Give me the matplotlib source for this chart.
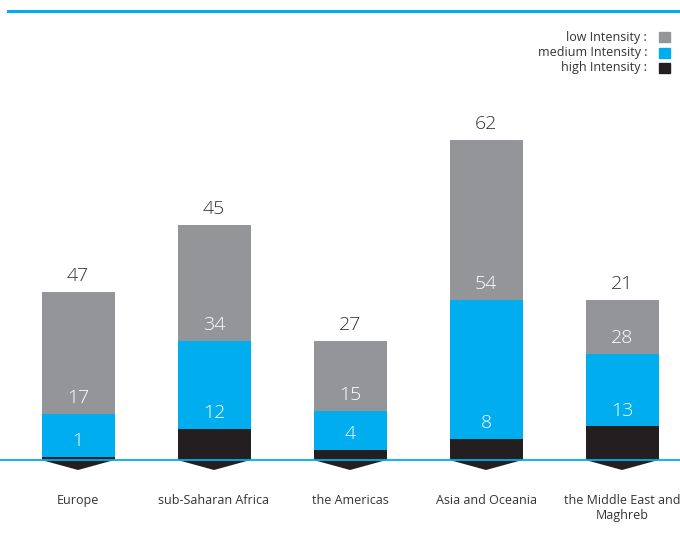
import matplotlib.pyplot as plt
from matplotlib.patches import Polygon, Rectangle
from matplotlib.lines import Line2D

# ---
regions = ['Europe', 'sub-Saharan Africa', 'the Americas', 'Asia and Oceania',
           'the Middle East and\nMaghreb']
high = [1, 12, 4, 8, 13]
medium = [17, 34, 15, 54, 28]
low = [47, 45, 27, 62, 21]

c_low = '#939598'
c_med = '#00aeef'
c_high = '#231f20'
c_text = '#333333'

plt.rcParams['font.family'] = ['Open Sans', 'DejaVu Sans']

W, H = 680, 537
fig = plt.figure(figsize=(W / 100, H / 100), dpi=100)
ax = fig.add_axes([0, 0, 1, 1])
ax.axis('off')

# pixel mapping: bar centres at 78 + 136*i, baseline at y=460 from top, 2.58 px per unit
px_unit = 2.58
base_px = H - 460
ax.set_xlim(-78 / 136, (W - 78) / 136)
ax.set_ylim(-base_px / px_unit, (H - base_px) / px_unit)

x = list(range(len(regions)))
width = 73 / 136

b1 = [h for h in high]
b2 = [h + m for h, m in zip(high, medium)]
ax.bar(x, high, width=width, color=c_high, zorder=2)
ax.bar(x, medium, width=width, bottom=b1, color=c_med, zorder=2)
ax.bar(x, low, width=width, bottom=b2, color=c_low, zorder=2)

# chevrons under each bar
depth = 10 / px_unit
for xi in x:
    ax.add_patch(Polygon([(xi - width / 2, 0), (xi + width / 2, 0), (xi, -depth)],
                         closed=True, color=c_high, zorder=2, lw=0))

# baseline
ax.axhline(0, color=c_med, lw=1.3, zorder=3)

# value labels sit just above the top of each segment
for xi, h, m, l in zip(x, high, medium, low):
    ax.annotate(str(l), (xi, h + m + l), xytext=(0, 5), textcoords='offset points',
                ha='center', va='bottom', fontsize=14, color=c_text, fontweight='light')
    ax.annotate(str(m), (xi, h + m), xytext=(0, 5), textcoords='offset points',
                ha='center', va='bottom', fontsize=14, color='white', fontweight='light')
    ax.annotate(str(h), (xi, h), xytext=(0, 5), textcoords='offset points',
                ha='center', va='bottom', fontsize=14, color='white', fontweight='light')

# category labels
for xi, name in zip(x, regions):
    ax.text(xi, -34 / px_unit, name, ha='center', va='top', fontsize=9,
            color=c_text, linespacing=1.15)

# top rule
fig.add_artist(Line2D([8 / W, 1], [1 - 11 / H, 1 - 11 / H], color=c_med, lw=2.2))

# legend
leg = [('low Intensity :', c_low), ('medium Intensity :', c_med),
       ('high Intensity :', c_high)]
for k, (lab, col) in enumerate(leg):
    yc = 37 + k * 15.5
    fig.text(647 / W, 1 - yc / H, lab, ha='right', va='center', fontsize=9,
             color=c_text)
    fig.add_artist(Rectangle((659 / W, 1 - (yc + 5) / H), 11 / W, 10 / H,
                             color=col, transform=fig.transFigure))

fig.savefig('out.png', dpi=100)
